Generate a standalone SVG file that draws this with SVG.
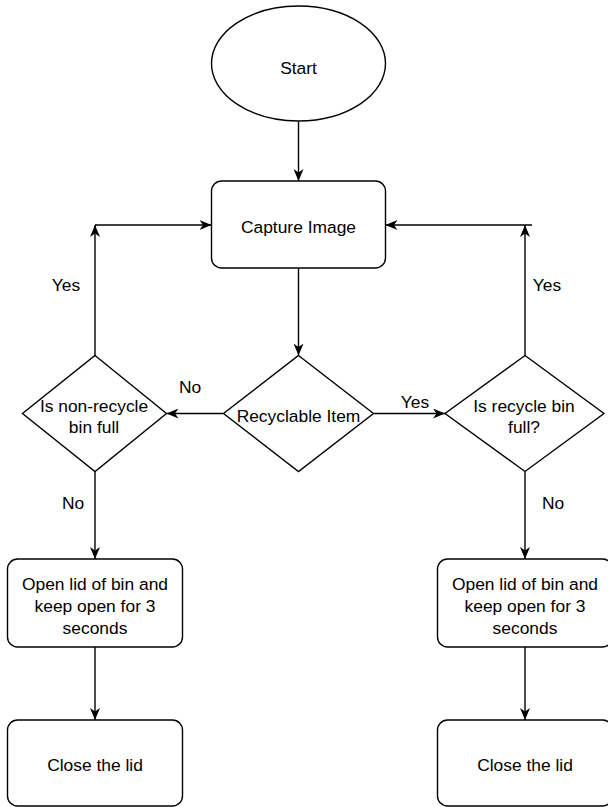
<svg xmlns="http://www.w3.org/2000/svg" width="608" height="807" viewBox="0 0 608 807">
<style>
.s{fill:#ffffff;stroke:#000000;stroke-width:1.4}
.t{font-family:"Liberation Sans",Arial,sans-serif;font-size:17.4px;fill:#000000;text-anchor:middle}
.e{fill:none;stroke:#000000;stroke-width:1.4}
</style>
<defs>
<marker id="arr" markerUnits="userSpaceOnUse" viewBox="0 0 12 10" refX="12" refY="5" markerWidth="12" markerHeight="10" orient="auto">
<path d="M12,5 L0,0 L3.5,5 L0,10 Z" fill="#000000"/>
</marker>
</defs>
<rect width="608" height="807" fill="#ffffff"/>
<g id="connectors">
<path class="e" d="M298.5,121.5 V181" marker-end="url(#arr)"/>
<path class="e" d="M298.5,268 V355.5" marker-end="url(#arr)"/>
<path class="e" d="M223.5,413.5 H166.5" marker-end="url(#arr)"/>
<path class="e" d="M373.5,413.5 H445" marker-end="url(#arr)"/>
<path class="e" d="M95,355.5 V225" marker-end="url(#arr)"/>
<path class="e" d="M95,225 H211.5" marker-end="url(#arr)"/>
<path class="e" d="M525,355.5 V225" marker-end="url(#arr)"/>
<path class="e" d="M532,225 H385.5" marker-end="url(#arr)"/>
<path class="e" d="M95,471.5 V559" marker-end="url(#arr)"/>
<path class="e" d="M525,471.5 V559" marker-end="url(#arr)"/>
<path class="e" d="M95,647 V720" marker-end="url(#arr)"/>
<path class="e" d="M525,647 V720" marker-end="url(#arr)"/>
<text class="t" x="190" y="393">No</text>
<text class="t" x="415" y="408">Yes</text>
<text class="t" x="66" y="291">Yes</text>
<text class="t" x="547" y="291">Yes</text>
<text class="t" x="73" y="509">No</text>
<text class="t" x="553" y="509">No</text>
</g>
<g id="start">
<ellipse class="s" cx="298.5" cy="63.5" rx="87" ry="57.5"/>
<text class="t" x="298.5" y="73.5">Start</text>
</g>
<g id="capture">
<rect class="s" x="211.5" y="181" width="174" height="87" rx="10"/>
<text class="t" x="298.5" y="233">Capture Image</text>
</g>
<g id="recyclable">
<polygon class="s" points="298.5,355.5 373.5,413.5 298.5,471.5 223.5,413.5"/>
<text class="t" x="298.5" y="422">Recyclable Item</text>
</g>
<g id="nonrecycle-full">
<polygon class="s" points="95,355.5 166.5,413.5 95,471.5 22.5,413.5"/>
<text class="t" x="94" y="411.5">Is non-recycle</text>
<text class="t" x="94" y="432.5">bin full</text>
</g>
<g id="recycle-full">
<polygon class="s" points="525,355.5 604,413.5 525,471.5 445,413.5"/>
<text class="t" x="524" y="411.5">Is recycle bin</text>
<text class="t" x="524" y="432.5">full?</text>
</g>
<g id="open-left">
<rect class="s" x="7.5" y="559" width="175" height="88" rx="10"/>
<text class="t" x="95" y="589.5">Open lid of bin and</text>
<text class="t" x="95" y="611.5">keep open for 3</text>
<text class="t" x="95" y="633.5">seconds</text>
</g>
<g id="open-right">
<rect class="s" x="437.5" y="559" width="175" height="88" rx="10"/>
<text class="t" x="525" y="589.5">Open lid of bin and</text>
<text class="t" x="525" y="611.5">keep open for 3</text>
<text class="t" x="525" y="633.5">seconds</text>
</g>
<g id="close-left">
<rect class="s" x="7.5" y="720" width="175" height="86" rx="10"/>
<text class="t" x="95" y="771">Close the lid</text>
</g>
<g id="close-right">
<rect class="s" x="437.5" y="720" width="175" height="86" rx="10"/>
<text class="t" x="525" y="771">Close the lid</text>
</g>
</svg>
